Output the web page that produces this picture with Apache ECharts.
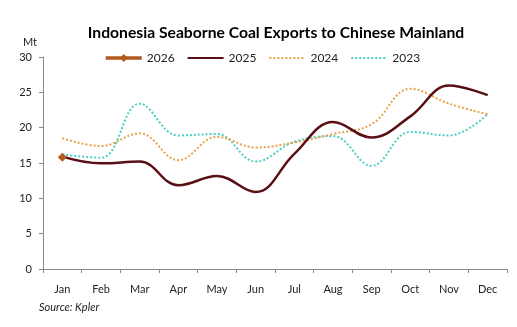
<!DOCTYPE html>
<html>
<head>
<meta charset="utf-8">
<script src="https://cdn.jsdelivr.net/npm/echarts@6/dist/echarts.min.js"></script>
<style>html,body{margin:0;padding:0;background:#fff;}#c{width:517px;height:327px;}</style>
</head>
<body>
<div id="c"></div>
<script>
const months = ['Jan','Feb','Mar','Apr','May','Jun','Jul','Aug','Sep','Oct','Nov','Dec'];
const s2026 = [15.8, null, null, null, null, null, null, null, null, null, null, null];
const s2025 = [15.9, 14.95, 15.2, 11.85, 13.15, 10.9, 16.3, 20.8, 18.6, 21.6, 25.95, 24.6];
const s2024 = [18.5, 17.4, 19.2, 15.4, 18.7, 17.2, 17.9, 19.1, 20.5, 25.5, 23.4, 21.9];
const s2023 = [16.2, 15.75, 23.4, 18.9, 19.1, 15.2, 18.0, 18.8, 14.6, 19.4, 18.9, 21.9];
const yTicks = [0, 5, 10, 15, 20, 25, 30];

const FONT = 'Lato, "Liberation Sans", sans-serif';
const chart = echarts.init(document.getElementById('c'), null, {renderer: 'canvas'});
chart.setOption({
  animation: false,
  backgroundColor: '#ffffff',
  title: {
    text: 'Indonesia Seaborne Coal Exports to Chinese Mainland',
    left: 271, top: 20, textAlign: 'center',
    textStyle: {fontFamily: FONT, fontWeight: 'bold', fontSize: 15.7, color: '#000'}
  },
  legend: {
    top: 47, left: 99,
    itemWidth: 36, itemHeight: 10, itemGap: 12,
    textStyle: {fontFamily: FONT, fontSize: 12, color: '#222'},
    data: [
      {name: '2026', lineStyle: {width: 3.5}},
      {name: '2025', itemStyle: {opacity: 0}},
      {name: '2024', itemStyle: {opacity: 0}},
      {name: '2023', itemStyle: {opacity: 0}}
    ]
  },
  grid: {left: 43, right: 10, top: 57, bottom: 58, containLabel: false},
  xAxis: {
    type: 'category', data: months, boundaryGap: true,
    axisLine: {lineStyle: {color: '#888', width: 1}},
    axisTick: {show: true, interval: 0, length: 4, lineStyle: {color: '#888'}},
    axisLabel: {fontFamily: FONT, fontSize: 11, color: '#222', margin: 15, interval: 0}
  },
  yAxis: {
    type: 'value', min: yTicks[0], max: yTicks[yTicks.length-1], interval: 5,
    axisLine: {show: true, lineStyle: {color: '#888', width: 1}},
    axisTick: {show: true, length: 4, lineStyle: {color: '#888'}},
    splitLine: {show: false},
    axisLabel: {fontFamily: FONT, fontSize: 11, color: '#222', margin: 11}
  },
  graphic: [
    {type: 'text', left: 23, top: 37, style: {text: 'Mt', font: '11px ' + FONT, fill: '#222'}},
    {type: 'text', left: 39, top: 302, style: {text: 'Source: Kpler', font: 'italic 11px ' + FONT, fill: '#222'}}
  ],
  series: [
    {name: '2023', type: 'line', data: s2023, smooth: 0.4, showSymbol: false, symbol: 'none', z: 1,
     itemStyle: {color: '#4ecdc4'}, lineStyle: {color: '#4ecdc4', width: 2, type: [2, 2]}},
    {name: '2024', type: 'line', data: s2024, smooth: 0.4, showSymbol: false, symbol: 'none', z: 2,
     itemStyle: {color: '#e9a24a'}, lineStyle: {color: '#e9a24a', width: 2, type: [2, 2]}},
    {name: '2025', type: 'line', data: s2025, smooth: 0.4, showSymbol: false, symbol: 'none', z: 3,
     itemStyle: {color: '#5a0f14'}, lineStyle: {color: '#5a0f14', width: 2.5}},
    {name: '2026', type: 'line', data: s2026, smooth: 0.4, symbol: 'diamond', symbolSize: 9, showSymbol: true, z: 4,
     itemStyle: {color: '#b35a1f'}, lineStyle: {color: '#b35a1f', width: 3.5}}
  ]
});
</script>
</body>
</html>
